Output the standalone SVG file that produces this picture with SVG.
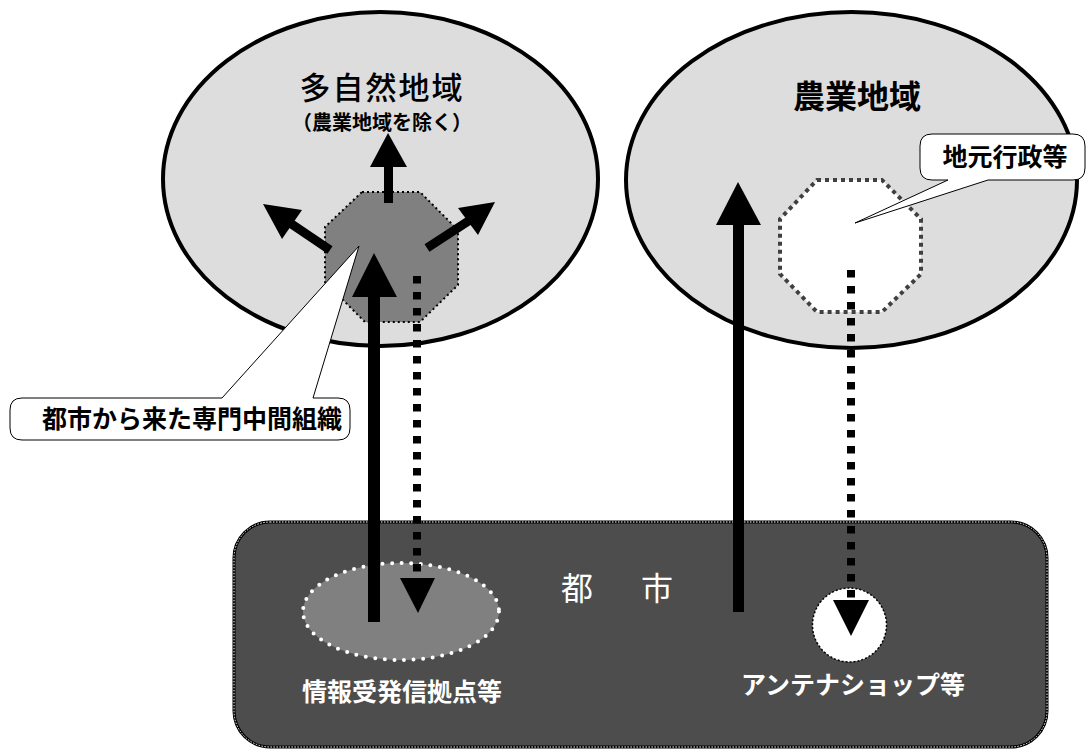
<svg xmlns="http://www.w3.org/2000/svg" width="1086" height="756" viewBox="0 0 1086 756">
<style>
.t{font-family:"Noto Sans CJK JP","Noto Sans CJK SC",sans-serif;text-anchor:middle}
.region{fill:#dddddd;stroke:#000;stroke-width:4}
.callout{fill:#fff;stroke:#000;stroke-width:1}
.solid{fill:#000}
.dotline{stroke:#000;stroke-width:8;stroke-dasharray:7.5 8.5;fill:none}
</style>
<rect width="1086" height="756" fill="#fff"/>
<g id="region-tashizen">
<ellipse class="region" cx="380.5" cy="179" rx="217.5" ry="167"/>
<text class="t" x="382" y="99" font-size="31" font-weight="500" letter-spacing="2">多自然地域</text>
<text class="t" x="382" y="130" font-size="20" font-weight="bold">（農業地域を除く）</text>
</g>
<g id="region-nogyo">
<ellipse class="region" cx="851.5" cy="180" rx="225.5" ry="168"/>
<text class="t" x="857" y="108" font-size="32" font-weight="bold">農業地域</text>
</g>
<g id="city">
<rect x="234" y="522" width="813" height="225" rx="36" fill="#4d4d4d" stroke="#000" stroke-width="3"/>
<rect x="234" y="522" width="813" height="225" rx="36" fill="none" stroke="#fff" stroke-width="1" stroke-dasharray="1.5 1.5"/>
<text class="t" x="621" y="600" font-size="32" fill="#fff" letter-spacing="8">都　市</text>
</g>
<g id="info-base">
<ellipse cx="401" cy="611.5" rx="98" ry="48.5" fill="#808080" stroke="#fff" stroke-width="4" stroke-linecap="round" stroke-dasharray="0 9.6"/>
<text class="t" x="402" y="701" font-size="25" font-weight="bold" fill="#fff">情報受発信拠点等</text>
</g>
<g id="antenna-shop">
<circle cx="849.5" cy="625" r="37" fill="#fff" stroke="#000" stroke-width="1.5" stroke-dasharray="2 2"/>
<text class="t" x="853" y="694" font-size="25" font-weight="bold" fill="#fff">アンテナショップ等</text>
</g>
<g id="org-octagon">
<polygon points="362,192 420,192 458,230 458,285 420,322 365,322 325,282 325,227" fill="#808080" stroke="#000" stroke-width="2" stroke-dasharray="2 3"/>
</g>
<g id="local-gov-octagon">
<polygon points="817,180 882,180 921,219 921,274 882,312 817,312 780,274 780,219" fill="#fff" stroke="#404040" stroke-width="4" stroke-dasharray="4 4"/>
</g>
<g id="callout-org">
<path class="callout" d="M22,398 H222 L359,246 L313,398 H338 Q350,398 350,410 V428 Q350,440 338,440 H22 Q10,440 10,428 V410 Q10,398 22,398 Z"/>
<text class="t" x="192" y="428" font-size="25" font-weight="bold">都市から来た専門中間組織</text>
</g>
<g id="callout-gov">
<path class="callout" d="M932,134 H1073 Q1085,134 1085,146 V168 Q1085,180 1073,180 H988 L855,223 L948,180 H932 Q920,180 920,168 V146 Q920,134 932,134 Z"/>
<text class="t" x="1005" y="166" font-size="25" font-weight="bold">地元行政等</text>
</g>
<g id="connectors">
<rect class="solid" x="368" y="296" width="12" height="326"/>
<polygon class="solid" points="374,253 352,297 397,297"/>
<rect class="solid" x="733" y="224" width="11" height="388"/>
<polygon class="solid" points="738,182 716,225 761,225"/>
<line class="dotline" x1="417" y1="276" x2="417" y2="578"/>
<polygon class="solid" points="400,578 435,578 418,613"/>
<line class="dotline" x1="851" y1="270" x2="851" y2="600"/>
<polygon class="solid" points="833,600 869,600 851,636"/>
<line x1="388.5" y1="203" x2="388.5" y2="166" stroke="#000" stroke-width="9"/>
<polygon class="solid" points="370,167 407,167 388,133"/>
<line x1="330" y1="250" x2="290" y2="223" stroke="#000" stroke-width="9"/>
<polygon class="solid" points="263,204 302,210 282,239"/>
<line x1="427" y1="248" x2="470" y2="220" stroke="#000" stroke-width="9"/>
<polygon class="solid" points="495,202 458,208 478,235"/>
</g>
</svg>
